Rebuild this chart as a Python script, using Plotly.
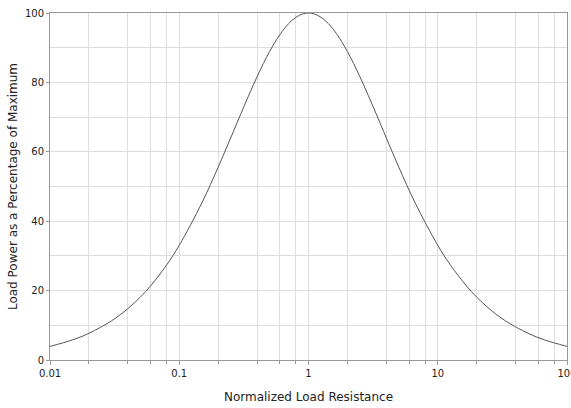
import plotly.graph_objects as go

# Normalized load resistance (x) and load power as % of maximum (y)
resistance = [0.01, 0.015, 0.02, 0.03, 0.04, 0.05, 0.06, 0.08, 0.1, 0.15, 0.2, 0.25, 0.3, 0.4,
              0.5, 0.6, 0.7, 0.8, 0.9, 1.0, 1.111, 1.25, 1.429, 1.667, 2.0, 2.5, 3.333, 4.0,
              5.0, 6.667, 10.0, 12.5, 16.67, 20.0, 25.0, 33.33, 50.0, 66.67, 100.0]
power_pct = [3.92, 5.82, 7.69, 11.31, 14.79, 18.14, 21.36, 27.43, 33.06, 45.37, 55.56, 64.0,
             71.01, 81.63, 88.89, 93.75, 96.89, 98.77, 99.72, 100.0, 99.72, 98.77, 96.89,
             93.75, 88.89, 81.63, 71.01, 64.0, 55.56, 45.37, 33.06, 27.43, 21.36, 18.14,
             14.79, 11.31, 7.69, 5.82, 3.92]

x_tickvals = [0.01, 0.1, 1, 10, 100]
x_ticktext = ["0.01", "0.1", "1", "10", "100"]
x_minorvals = [m * d for d in [0.01, 0.1, 1, 10] for m in [2, 4, 6, 8]]

fig = go.Figure()
fig.add_trace(go.Scatter(x=resistance, y=power_pct, mode="lines",
                         line=dict(color="#555555", width=1, shape="spline"),
                         showlegend=False))

grid = "#dedede"
fig.update_layout(
    width=571, height=408,
    margin=dict(l=50, r=4, t=13, b=48),
    paper_bgcolor="white", plot_bgcolor="white",
    font=dict(family="DejaVu Sans", size=10, color="#222222"),
    xaxis=dict(type="log", range=[-2, 2], tickmode="array", tickvals=x_tickvals,
               ticktext=x_ticktext, showgrid=True, gridcolor=grid, gridwidth=1,
               ticks="outside", ticklen=4, tickcolor="#999999", ticklabeloverflow="allow",
               showline=True, linecolor="#999999", mirror=True, zeroline=False,
               automargin=False,
               minor=dict(tickmode="array", tickvals=x_minorvals, showgrid=True,
                          gridcolor=grid, ticks="outside", ticklen=3, tickcolor="#999999"),
               title=dict(text="Normalized Load Resistance", standoff=14)),
    yaxis=dict(range=[0, 100], dtick=20, showgrid=True, gridcolor=grid,
               ticks="outside", ticklen=3, tickcolor="#999999", ticklabeloverflow="allow",
               showline=True, linecolor="#999999", mirror=True, zeroline=False,
               automargin=False,
               minor=dict(dtick=10, showgrid=True, gridcolor=grid),
               title=dict(text="Load Power as a Percentage of Maximum", standoff=4)),
)

fig.write_html("out.html", config={"displayModeBar": False},
               post_script="document.body.style.margin='0px';document.body.style.overflow='hidden';")
